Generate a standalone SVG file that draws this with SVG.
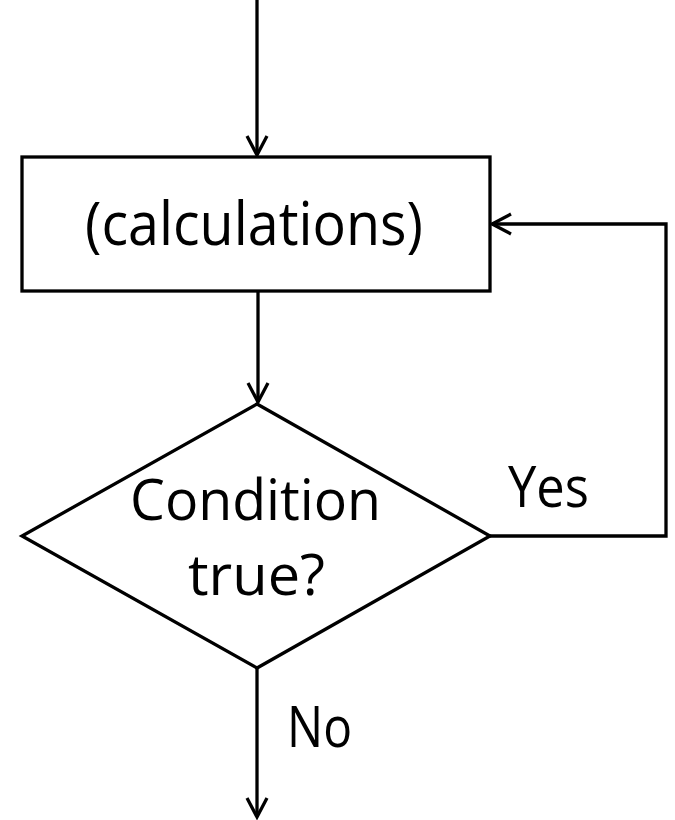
<svg xmlns="http://www.w3.org/2000/svg" width="675" height="820" viewBox="0 0 675 820">
<style>
.s{fill:none;stroke:#000;stroke-width:3.3}
.t{font-family:"Open Sans","Liberation Sans",sans-serif;font-size:56px;fill:#000;text-anchor:middle}
</style>
<defs>
<marker id="a" viewBox="-2 -2 24 24" refX="19" refY="10" markerWidth="24" markerHeight="24" markerUnits="userSpaceOnUse" orient="auto">
<path d="M0,0 L19,10 L0,20" fill="none" stroke="#000" stroke-width="3.3"/>
</marker>
</defs>
<rect width="675" height="820" fill="#fff"/>
<g id="calc">
<rect class="s" x="22" y="157" width="468" height="134"/>
<text class="t" x="254" y="245" style="font-size:60px" textLength="338" lengthAdjust="spacingAndGlyphs">(calculations)</text>
</g>
<g id="cond">
<polygon class="s" points="257,404 490,536 257,668 22,536"/>
<text class="t" x="255.5" y="520" textLength="251" lengthAdjust="spacingAndGlyphs">Condition</text>
<text class="t" x="256.5" y="595" textLength="137" lengthAdjust="spacingAndGlyphs">true?</text>
</g>
<g id="connectors">
<line class="s" x1="257" y1="0" x2="257" y2="155" marker-end="url(#a)"/>
<line class="s" x1="258" y1="291" x2="258" y2="402" marker-end="url(#a)"/>
<polyline class="s" points="490,536 666,536 666,224 492,224" marker-end="url(#a)"/>
<line class="s" x1="257" y1="668" x2="257" y2="817" marker-end="url(#a)"/>
<text class="t" x="548.5" y="507" textLength="81" lengthAdjust="spacingAndGlyphs">Yes</text>
<text class="t" x="319.5" y="747" textLength="65" lengthAdjust="spacingAndGlyphs">No</text>
</g>
</svg>
